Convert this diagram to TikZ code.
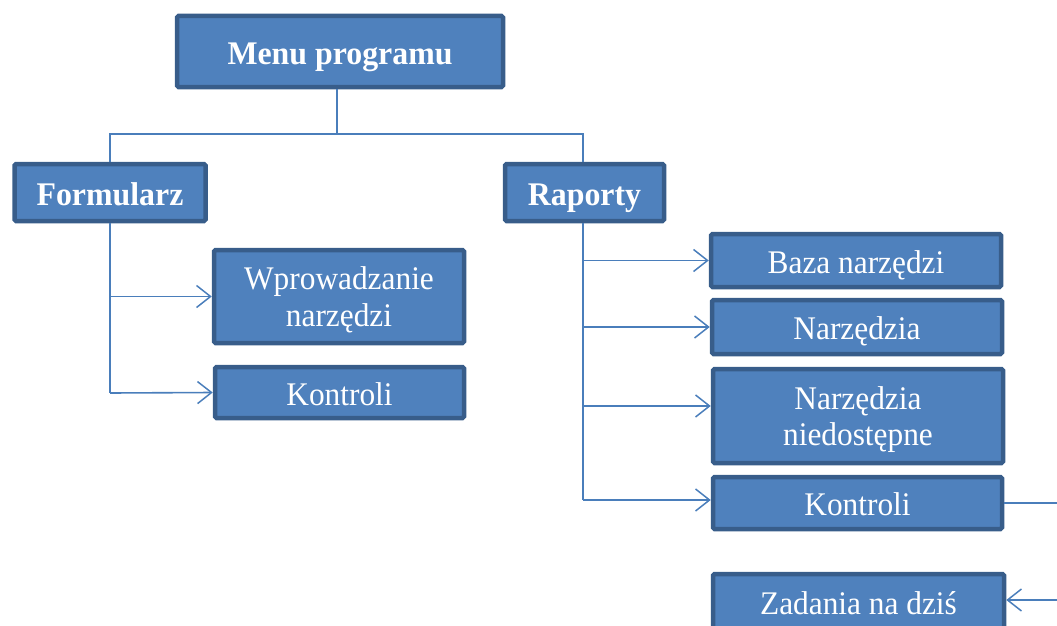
\documentclass[tikz,border=0pt]{standalone}
\usepackage{fontspec}
\setmainfont{Liberation Serif}[FakeStretch=0.95]
\newfontfamily\boldfam{Liberation Serif}[FakeStretch=0.965]
\usetikzlibrary{arrows.meta}
\definecolor{boxfill}{HTML}{4F81BD}
\definecolor{boxline}{HTML}{385D8A}
\definecolor{conn}{HTML}{4A7EBB}
\tikzset{
  box/.style={draw=boxline, fill=boxfill, line width=4.5pt, rounded corners=1.5pt,
    text=white, align=center, inner sep=0pt, font=\fontsize{33}{36.7}\selectfont,
    text height=25pt, text depth=0pt},
  box2/.style={box, text height=, text depth=0pt},
  bbox/.style={box, font=\boldfam\fontsize{33}{37}\selectfont\bfseries},
  link/.style={draw=conn, line width=1.6pt},
  arr/.style={link, -{Straight Barb[length=14pt,width=22pt,line width=1.5pt]}}
}
\begin{document}
\begin{tikzpicture}[x=1pt,y=-1pt]
\useasboundingbox (0,0) rectangle (1057,626);
\clip (0,0) rectangle (1057,626);
% nodes
\node[bbox, minimum width=326pt, minimum height=71pt] (menu) at (340,51.5) {Menu programu};
\node[bbox, minimum width=191pt, minimum height=57pt] (form) at (110,192.5) {Formularz};
\node[bbox, minimum width=159pt, minimum height=57pt] (rap) at (584.5,192.5) {Raporty};
\node[box2, minimum width=250pt, minimum height=93pt] (wpr) at (339,296.5) {Wprowadzanie\\narzędzi};
\node[box, minimum width=249pt, minimum height=51pt] (kl) at (339.5,392.5) {Kontroli};
\node[box, minimum width=290pt, minimum height=53pt] (baza) at (856,260.5) {Baza narzędzi};
\node[box, minimum width=290pt, minimum height=54pt] (narz) at (857,327) {Narzędzia};
\node[box2, minimum width=290pt, minimum height=94pt] (nied) at (858,416) {Narzędzia\\niedostępne};
\node[box, minimum width=289pt, minimum height=52pt] (kr) at (857.5,503) {Kontroli};
\node[box, minimum width=291pt, minimum height=56pt] (zad) at (858.5,602) {Zadania na dziś};
% coordinates
\coordinate (j) at (337,134);
\coordinate (ft) at (110,393);
\coordinate (rt) at (583,500);
\coordinate (outA) at (1060,503);
\coordinate (outB) at (1060,600);
% connectors
\draw[link] (menu.south -| j) -- (j);
\draw[link] (form.north) |- (j) -| (rap.north -| rt);
\draw[link] (form.south) -- (ft);
\draw[arr] (ft |- wpr.west) -- (wpr.west);
\draw[arr] (ft) -- (kl.west);
\draw[link] (rap.south -| rt) -- (rt);
\draw[arr] (rt |- baza.west) -- (baza.west);
\draw[arr] (rt |- narz.west) -- (narz.west);
\draw[arr] (rt |- 0,406) -- (nied.west |- 0,406);
\draw[arr] (rt) -- (kr.west |- rt);
\draw[link] (kr.east) -- (outA);
\draw[arr] (outB) -- (zad.east |- outB);
\end{tikzpicture}
\end{document}
